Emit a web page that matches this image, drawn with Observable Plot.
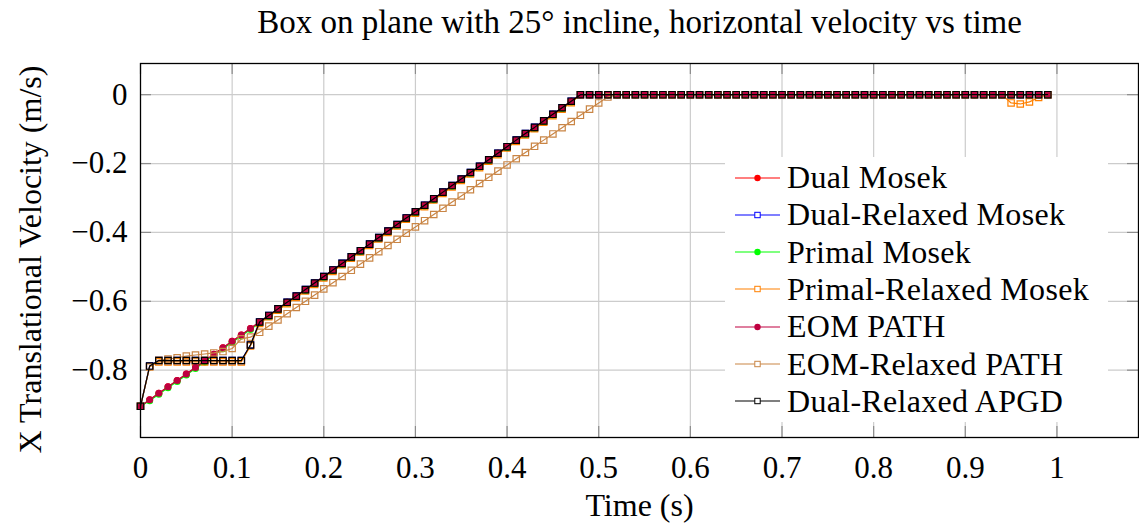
<!DOCTYPE html>
<html><head><meta charset="utf-8">
<script src="https://cdn.jsdelivr.net/npm/d3@7"></script>
<script src="https://cdn.jsdelivr.net/npm/@observablehq/plot@0.6"></script>
<style>
body{margin:0;background:#fff;}
#wrap{position:relative;width:1139px;height:523px;font-family:"Liberation Serif",serif;}
#legend{position:absolute;left:725px;top:157px;width:383px;height:265px;background:#fff;}
.row{position:absolute;left:0;height:37px;display:flex;align-items:center;font-size:32px;letter-spacing:0.3px;white-space:nowrap;color:#000;}
.row svg{margin-left:10px;margin-right:7px;}
</style></head><body><div id="wrap"></div>
<script>
const title = "Box on plane with 25° incline, horizontal velocity vs time";
const xLabel = "Time (s)";
const yLabel = "X Translational Velocity (m/s)";
const xTicks = [0,0.1,0.2,0.3,0.4,0.5,0.6,0.7,0.8,0.9,1];
const yTicks = [-0.8,-0.6,-0.4,-0.2,0];

const time = [0,0.01,0.02,0.03,0.04,0.05,0.06,0.07,0.08,0.09,
0.10,0.11,0.12,0.13,0.14,0.15,0.16,0.17,0.18,0.19,
0.20,0.21,0.22,0.23,0.24,0.25,0.26,0.27,0.28,0.29,
0.30,0.31,0.32,0.33,0.34,0.35,0.36,0.37,0.38,0.39,
0.40,0.41,0.42,0.43,0.44,0.45,0.46,0.47,0.48,0.49,
0.50,0.51,0.52,0.53,0.54,0.55,0.56,0.57,0.58,0.59,
0.60,0.61,0.62,0.63,0.64,0.65,0.66,0.67,0.68,0.69,
0.70,0.71,0.72,0.73,0.74,0.75,0.76,0.77,0.78,0.79,
0.80,0.81,0.82,0.83,0.84,0.85,0.86,0.87,0.88,0.89,
0.90,0.91,0.92,0.93,0.94,0.95,0.96,0.97,0.98,0.99];

const dualMosek = [-0.905,-0.886,-0.867,-0.848,-0.830,-0.811,-0.792,-0.773,-0.754,-0.735,
-0.716,-0.698,-0.679,-0.660,-0.641,-0.622,-0.603,-0.585,-0.566,-0.547,
-0.528,-0.509,-0.490,-0.471,-0.453,-0.434,-0.415,-0.396,-0.377,-0.358,
-0.340,-0.321,-0.302,-0.283,-0.264,-0.245,-0.226,-0.208,-0.189,-0.170,
-0.151,-0.132,-0.113,-0.095,-0.076,-0.057,-0.038,-0.019,0,0,
0,0,0,0,0,0,0,0,0,0, 0,0,0,0,0,0,0,0,0,0, 0,0,0,0,0,0,0,0,0,0,
0,0,0,0,0,0,0,0,0,0, 0,0,0,0,0,0,0,0,0,0];

const dualRelaxedMosek = [-0.905,-0.788,-0.772,-0.772,-0.772,-0.772,-0.772,-0.772,-0.772,-0.772,
-0.772,-0.772,-0.727,-0.660,-0.641,-0.622,-0.603,-0.585,-0.566,-0.547,
-0.528,-0.509,-0.490,-0.471,-0.453,-0.434,-0.415,-0.396,-0.377,-0.358,
-0.340,-0.321,-0.302,-0.283,-0.264,-0.245,-0.226,-0.208,-0.189,-0.170,
-0.151,-0.132,-0.113,-0.095,-0.076,-0.057,-0.038,-0.019,0,0,
0,0,0,0,0,0,0,0,0,0, 0,0,0,0,0,0,0,0,0,0, 0,0,0,0,0,0,0,0,0,0,
0,0,0,0,0,0,0,0,0,0, 0,0,0,0,0,0,0,0,0,0];

const primalMosek = [-0.905,-0.889,-0.870,-0.851,-0.833,-0.814,-0.795,-0.776,-0.757,-0.738,
-0.719,-0.701,-0.682,-0.663,-0.644,-0.625,-0.606,-0.588,-0.569,-0.550,
-0.531,-0.512,-0.493,-0.474,-0.456,-0.437,-0.418,-0.399,-0.380,-0.361,
-0.343,-0.324,-0.305,-0.286,-0.267,-0.248,-0.229,-0.211,-0.192,-0.173,
-0.154,-0.135,-0.116,-0.098,-0.079,-0.060,-0.041,-0.022,0,0,
0,0,0,0,0,0,0,0,0,0, 0,0,0,0,0,0,0,0,0,0, 0,0,0,0,0,0,0,0,0,0,
0,0,0,0,0,0,0,0,0,0, 0,0,0,0,0,0,0,0,0,0];

const primalRelaxedMosek = [-0.905,-0.790,-0.776,-0.776,-0.776,-0.776,-0.776,-0.776,-0.776,-0.776,
-0.776,-0.776,-0.730,-0.664,-0.645,-0.626,-0.607,-0.589,-0.570,-0.551,
-0.532,-0.513,-0.494,-0.475,-0.457,-0.438,-0.419,-0.400,-0.381,-0.362,
-0.344,-0.325,-0.306,-0.287,-0.268,-0.249,-0.230,-0.212,-0.193,-0.174,
-0.155,-0.136,-0.117,-0.099,-0.080,-0.061,-0.042,-0.023,0,0,
0,0,0,0,0,0,0,0,0,0, 0,0,0,0,0,0,0,0,0,0, 0,0,0,0,0,0,0,0,0,0,
0,0,0,0,0,0,0,0,0,0, 0,0,0,0,0,-0.024,-0.027,-0.021,-0.008,0];

const eomPath = [-0.905,-0.886,-0.867,-0.848,-0.830,-0.811,-0.792,-0.773,-0.754,-0.735,
-0.716,-0.698,-0.679,-0.660,-0.641,-0.622,-0.603,-0.585,-0.566,-0.547,
-0.528,-0.509,-0.490,-0.471,-0.453,-0.434,-0.415,-0.396,-0.377,-0.358,
-0.340,-0.321,-0.302,-0.283,-0.264,-0.245,-0.226,-0.208,-0.189,-0.170,
-0.151,-0.132,-0.113,-0.095,-0.076,-0.057,-0.038,-0.019,0,0,
0,0,0,0,0,0,0,0,0,0, 0,0,0,0,0,0,0,0,0,0, 0,0,0,0,0,0,0,0,0,0,
0,0,0,0,0,0,0,0,0,0, 0,0,0,0,0,0,0,0,0,0];

const eomRelaxedPath = [-0.905,-0.790,-0.771,-0.768,-0.764,-0.759,-0.756,-0.753,-0.750,-0.746,
-0.737,-0.709,-0.704,-0.690,-0.672,-0.654,-0.636,-0.618,-0.600,-0.582,
-0.564,-0.546,-0.528,-0.510,-0.492,-0.474,-0.456,-0.438,-0.420,-0.402,
-0.384,-0.366,-0.348,-0.330,-0.312,-0.294,-0.276,-0.258,-0.240,-0.222,
-0.204,-0.186,-0.168,-0.150,-0.132,-0.114,-0.096,-0.078,-0.060,-0.042,
-0.024,-0.007,0,0,0,0,0,0,0,0, 0,0,0,0,0,0,0,0,0,0, 0,0,0,0,0,0,0,0,0,0,
0,0,0,0,0,0,0,0,0,0, 0,0,0,0,0,0,0,0,0,0];

const dualRelaxedApgd = [-0.905,-0.788,-0.772,-0.772,-0.772,-0.772,-0.772,-0.772,-0.772,-0.772,
-0.772,-0.772,-0.727,-0.660,-0.641,-0.622,-0.603,-0.585,-0.566,-0.547,
-0.528,-0.509,-0.490,-0.471,-0.453,-0.434,-0.415,-0.396,-0.377,-0.358,
-0.340,-0.321,-0.302,-0.283,-0.264,-0.245,-0.226,-0.208,-0.189,-0.170,
-0.151,-0.132,-0.113,-0.095,-0.076,-0.057,-0.038,-0.019,0,0,
0,0,0,0,0,0,0,0,0,0, 0,0,0,0,0,0,0,0,0,0, 0,0,0,0,0,0,0,0,0,0,
0,0,0,0,0,0,0,0,0,0, 0,0,0,0,0,0,0,0,0,0];

const seriesNames = ["Dual Mosek","Dual-Relaxed Mosek","Primal Mosek","Primal-Relaxed Mosek","EOM PATH","EOM-Relaxed PATH","Dual-Relaxed APGD"];
const seriesValues = [dualMosek,dualRelaxedMosek,primalMosek,primalRelaxedMosek,eomPath,eomRelaxedPath,dualRelaxedApgd];

// styles
const seriesColors = ["#ff0000","#0000ff","#00ff00","#ff8000","#bf0040","#c98545","#000000"];
const seriesMarkers = ["circle","square","circle","square","circle","square","square"];

const rows = [];
seriesNames.forEach((name, si) => {
  time.forEach((t, i) => {
    const v = seriesValues[si][i];
    if (v !== undefined) rows.push({series: name, t, v});
  });
});

const fmt = d => d === 0 ? "0" : (d < 0 ? "\u2212" : "") + String(+Math.abs(d).toFixed(2));

const W = 1139, H = 523, mL = 140, mR = 1, mT = 63, mB = 86;
const fw = W - mL - mR, fh = H - mT - mB, tl = 11;

const seriesMarks = [];
seriesNames.forEach((name, si) => {
  const d = rows.filter(r => r.series === name);
  const c = seriesColors[si];
  seriesMarks.push(Plot.line(d, {x: "t", y: "v", stroke: c, strokeWidth: 1.2}));
  if (seriesMarkers[si] === "circle") {
    seriesMarks.push(Plot.dot(d, {x: "t", y: "v", r: 3.5, fill: c, stroke: "none"}));
  } else {
    seriesMarks.push(Plot.dot(d, {x: "t", y: "v", symbol: "square", r: 3.6, fill: "none", stroke: c, strokeWidth: 1.2}));
  }
});

const chart = Plot.plot({
  width: W, height: H,
  marginLeft: mL, marginRight: mR, marginTop: mT, marginBottom: mB,
  style: {fontFamily: "Liberation Serif, serif", fontSize: "31px", background: "white", color: "black"},
  x: {domain: [0, 1.089], ticks: xTicks, tickFormat: fmt, tickSize: 0, tickPadding: 18, label: null},
  y: {domain: [-0.9955, 0.0905], ticks: yTicks, tickFormat: fmt, tickSize: 0, tickPadding: 13, label: null},
  marks: [
    Plot.ruleX(xTicks.filter(d => d > 0), {stroke: "#cccccc", strokeWidth: 1.2}),
    Plot.ruleY(yTicks, {stroke: "#cccccc", strokeWidth: 1.2}),
    Plot.tickX(xTicks, {x: d => d, insetTop: fh - tl, stroke: "#8c8c8c", strokeWidth: 1.2}),
    Plot.tickX(xTicks, {x: d => d, insetBottom: fh - tl, stroke: "#8c8c8c", strokeWidth: 1.2}),
    Plot.tickY(yTicks, {y: d => d, insetRight: fw - tl, stroke: "#8c8c8c", strokeWidth: 1.2}),
    Plot.tickY(yTicks, {y: d => d, insetLeft: fw - tl, stroke: "#8c8c8c", strokeWidth: 1.2}),
    ...seriesMarks,
    Plot.frame({stroke: "black", strokeWidth: 1.3}),
    Plot.text([title], {text: d => d, frameAnchor: "top", dy: -41, lineAnchor: "middle", textAnchor: "middle", fontSize: 33, letterSpacing: 0.4}),
    Plot.text([xLabel], {text: d => d, frameAnchor: "bottom", dy: 68, lineAnchor: "middle", textAnchor: "middle", fontSize: 32}),
    Plot.text([yLabel], {text: d => d, frameAnchor: "left", dx: -110, dy: 9, rotate: -90, lineAnchor: "middle", textAnchor: "middle", fontSize: 32, letterSpacing: 0.4})
  ]
});

const wrap = document.getElementById("wrap");
wrap.appendChild(chart);

// legend
const legend = document.createElement("div");
legend.id = "legend";
seriesNames.forEach((name, si) => {
  const row = document.createElement("div");
  row.className = "row";
  row.style.top = (2 + si * 37.33) + "px";
  const c = seriesColors[si];
  const marker = seriesMarkers[si] === "circle"
    ? `<circle cx="22.5" cy="10" r="3.2" fill="${c}"/>`
    : `<rect x="19.8" y="7.3" width="5.4" height="5.4" fill="white" stroke="${c}" stroke-width="1"/>`;
  row.innerHTML = `<svg width="45" height="20"><line x1="0" x2="45" y1="10" y2="10" stroke="${c}" stroke-width="1.2"/>${marker}</svg><span>${name}</span>`;
  legend.appendChild(row);
});
wrap.appendChild(legend);
</script></body></html>
